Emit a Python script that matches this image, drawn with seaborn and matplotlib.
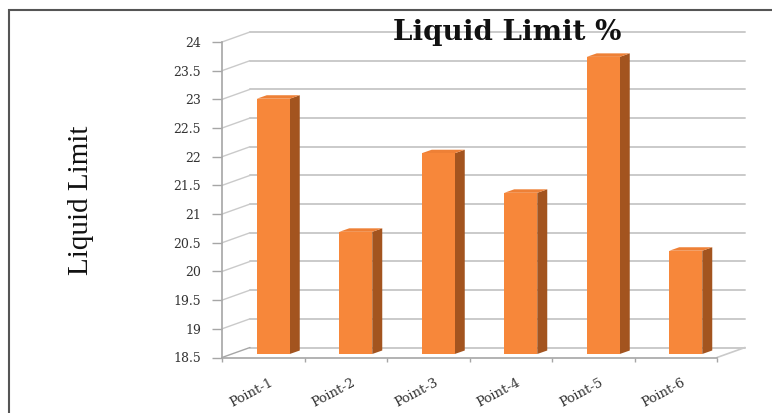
import matplotlib
matplotlib.use("Agg")
import matplotlib.pyplot as plt
import matplotlib.transforms as mtransforms
from matplotlib.patches import Polygon, Rectangle
from matplotlib.lines import Line2D
import seaborn as sns
import pandas as pd
import numpy as np

# Liquid limit test results per sampling point
points = ["Point-1", "Point-2", "Point-3", "Point-4", "Point-5", "Point-6"]
liquid_limit = [22.95, 20.63, 22.00, 21.31, 23.68, 20.30]
y_ticks = [18.5, 19, 19.5, 20, 20.5, 21, 21.5, 22, 22.5, 23, 23.5, 24]
y_tick_labels = ["18.5", "19", "19.5", "20", "20.5", "21", "21.5", "22",
                 "22.5", "23", "23.5", "24"]

FRONT = "#F7873A"
SIDE = "#A3541F"
TOP = "#EE8036"
GRID = "#CACACA"
AXIS = "#A6A6A6"

sns.set_theme(style="white")

W, H = 772, 413
fig = plt.figure(figsize=(W / 100, H / 100), dpi=100)
fig.patch.set_facecolor("white")

# front plane of the pseudo-3D plot box (pixels)
x_left, x_right, y_top, y_bot = 222, 717, 42, 357.5
ax = fig.add_axes([x_left / W, 1 - y_bot / H, (x_right - x_left) / W, (y_bot - y_top) / H])
ax.set_facecolor("none")

df = pd.DataFrame({"point": points, "liquid_limit": liquid_limit})
sns.barplot(data=df, x="point", y="liquid_limit", color=FRONT, saturation=1,
            width=0.4, ax=ax, zorder=4, edgecolor="none")

ymin, ymax = y_ticks[0], y_ticks[-1]
ax.set_xlim(-0.5, len(points) - 0.5)
ax.set_ylim(ymin, ymax)

# pixel -> data conversion factors
px_x = (len(points)) / (x_right - x_left)
px_y = (ymax - ymin) / (y_bot - y_top)

# back-wall offset of the box and bar placement/depth
wall_dx, wall_dy = 28 * px_x, 10 * px_y
bar_dx, bar_dy = 10 * px_x, 3.5 * px_y
depth_dx, depth_dy = 10 * px_x, 3.5 * px_y

# back-wall gridlines and their connectors to the front axis
for yv in y_ticks:
    ax.add_line(Line2D([-0.5 + wall_dx, len(points) - 0.5 + wall_dx],
                       [yv + wall_dy, yv + wall_dy], color=GRID, lw=1.4,
                       clip_on=False, zorder=1))
    ax.add_line(Line2D([-0.5, -0.5 + wall_dx], [yv, yv + wall_dy],
                       color=GRID if yv != ymin else AXIS, lw=1.0,
                       clip_on=False, zorder=1))
# floor right edge
ax.add_line(Line2D([len(points) - 0.5, len(points) - 0.5 + wall_dx],
                   [ymin, ymin + wall_dy], color=GRID, lw=1.2,
                   clip_on=False, zorder=1))

# bars: start at the floor, shift into the box, add side and top faces
for patch, val in zip(ax.patches, liquid_limit):
    x0 = patch.get_x() + bar_dx
    w = patch.get_width()
    y0 = ymin + bar_dy
    patch.set_x(x0)
    patch.set_y(y0)
    patch.set_height(val - ymin)
    y1 = y0 + (val - ymin)
    x1 = x0 + w
    side = Polygon([(x1, y0), (x1, y1), (x1 + depth_dx, y1 + depth_dy),
                    (x1 + depth_dx, y0 + depth_dy)], closed=True,
                   facecolor=SIDE, edgecolor="none", zorder=3, clip_on=False)
    top = Polygon([(x0, y1), (x1, y1), (x1 + depth_dx, y1 + depth_dy),
                   (x0 + depth_dx, y1 + depth_dy)], closed=True,
                  facecolor=TOP, edgecolor="none", zorder=3, clip_on=False)
    ax.add_patch(side)
    ax.add_patch(top)

# axes spines and ticks
for s in ["top", "right"]:
    ax.spines[s].set_visible(False)
ax.spines["left"].set_color(AXIS)
ax.spines["bottom"].set_color(AXIS)
ax.spines["left"].set_linewidth(1.2)
ax.spines["bottom"].set_linewidth(1.2)

ax.set_yticks(y_ticks)
ax.set_yticklabels(y_tick_labels, family="DejaVu Serif", fontsize=9, color="#333333")
ax.tick_params(axis="y", left=True, length=7, width=1, color=AXIS, pad=8)

ax.set_xticks(range(len(points)))
ax.set_xticklabels(points, family="DejaVu Serif", fontsize=9.5, color="#333333",
                   rotation=28, ha="right", rotation_mode="anchor")
ax.tick_params(axis="x", bottom=True, length=0, pad=13)
for lbl in ax.get_xticklabels():
    lbl.set_transform(lbl.get_transform() + mtransforms.ScaledTranslation(
        6 / 100, 0, fig.dpi_scale_trans))
ax.set_xticks(np.arange(-0.5, len(points), 1.0), minor=True)
ax.tick_params(axis="x", which="minor", bottom=True, length=3, width=1, color=AXIS)
ax.set_xlabel("")
ax.set_ylabel("")

# axis title and chart title
fig.text(81 / W, 1 - 200 / H, "Liquid Limit", rotation=90, ha="center", va="center",
         family="Liberation Serif", fontsize=21, color="#111111")
fig.text(507 / W, 1 - 33 / H, "Liquid Limit %", ha="center", va="center",
         family="DejaVu Serif", fontweight="bold", fontsize=20, color="#111111",
         zorder=10)

# outer chart border
fig.patches.append(Rectangle((9 / W, -0.02), 1.0, 1 - 10 / H + 0.02,
                             transform=fig.transFigure, fill=False,
                             edgecolor="#555555", lw=1.5))

fig.savefig("out.png", dpi=100, facecolor="white")
